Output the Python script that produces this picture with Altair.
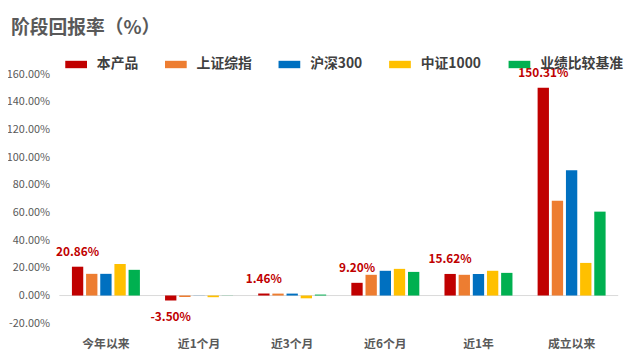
import altair as alt
import pandas as pd

categories = ["今年以来", "近1个月", "近3个月", "近6个月", "近1年", "成立以来"]
series = ["本产品", "上证综指", "沪深300", "中证1000", "业绩比较基准"]
colors = ["#C00000", "#ED7D31", "#0070C0", "#FFC000", "#00B050"]

v_product = [20.86, -3.50, 1.46, 9.20, 15.62, 150.31]
v_sh = [15.7, -1.0, 1.4, 15.0, 15.0, 68.6]
v_hs300 = [15.7, 0.1, 1.4, 17.9, 15.6, 90.7]
v_zz1000 = [22.9, -1.2, -2.0, 19.3, 17.9, 23.6]
v_bench = [18.6, 0.1, 0.7, 17.1, 16.4, 60.7]
y_ticks = [-20, 0, 20, 40, 60, 80, 100, 120, 140, 160]

rows = []
for s, vals in zip(series, [v_product, v_sh, v_hs300, v_zz1000, v_bench]):
    for c, v in zip(categories, vals):
        rows.append({"cat": c, "series": s, "value": v})
df = pd.DataFrame(rows)

FONT = "Noto Sans CJK SC"
PCT = "(datum.value < 0 ? '-' : '') + format(abs(datum.value), '.2f') + '%'"

x_axis = alt.Axis(title=None, domain=False, ticks=False, labelAngle=0,
                  labelFont=FONT, labelFontSize=12, labelFontWeight="bold",
                  labelColor="#595959", labelPadding=16, orient="bottom")
y_axis = alt.Axis(title=None, values=y_ticks, grid=False,
                  domain=False, ticks=False, labelPadding=10, labelOverlap=False,
                  labelExpr=PCT,
                  labelFont=FONT, labelFontSize=11, labelColor="#595959")
x_scale = alt.Scale(paddingInner=0.27, paddingOuter=0.135)
xoff_scale = alt.Scale(domain=series, paddingInner=0.2, paddingOuter=0)
y_scale = alt.Scale(domain=[-20, 160], nice=False, zero=False)


def X():
    return alt.X("cat:N", sort=categories, scale=x_scale, axis=x_axis)


def XO():
    return alt.XOffset("series:N", sort=series, scale=xoff_scale)


def Y(field):
    return alt.Y(field, scale=y_scale, axis=y_axis)


bars = alt.Chart(df).mark_bar().encode(
    x=X(),
    xOffset=XO(),
    y=Y("value:Q"),
    color=alt.Color("series:N", sort=series,
                    scale=alt.Scale(domain=series, range=colors),
                    legend=alt.Legend(title=None, orient="none", legendX=6, legendY=-21,
                                      direction="horizontal", columns=5,
                                      symbolType="M-1,-0.34h2v0.68h-2z", symbolSize=484,
                                      symbolStrokeWidth=0, symbolOffset=0,
                                      labelFont=FONT, labelFontSize=14, labelFontWeight="bold",
                                      labelColor="#404040", labelOffset=10, labelLimit=200,
                                      columnPadding=27, padding=0)),
)

zero = alt.Chart(pd.DataFrame({"value": [0]})).mark_rule(color="#D9D9D9", strokeWidth=1).encode(
    y=Y("value:Q")
)

prod = df[df["series"] == "本产品"]
pos_lbl = alt.Chart(prod).transform_filter("datum.value >= 0").transform_calculate(
    lbl=PCT
).mark_text(
    font=FONT, fontSize=12, fontWeight="bold", color="#C00000", baseline="middle", dy=-15
).encode(x=X(), xOffset=XO(), y=Y("value:Q"), text="lbl:N")
neg_lbl = alt.Chart(prod).transform_filter("datum.value < 0").transform_calculate(
    lbl=PCT
).mark_text(
    font=FONT, fontSize=12, fontWeight="bold", color="#C00000", baseline="middle", dy=17
).encode(x=X(), xOffset=XO(), y=Y("value:Q"), text="lbl:N")

chart = alt.layer(zero, bars, pos_lbl, neg_lbl).properties(
    width=566, height=252,
    autosize=alt.AutoSizeParams(type="none"),
    padding={"left": 52, "top": 65, "right": 14, "bottom": 30},
    title=alt.TitleParams("阶段回报率（%）", anchor="start", frame="group", dx=-49,
                          offset=16, font=FONT, fontSize=19, fontWeight="bold",
                          color="#595959"),
).configure_view(stroke=None).configure_axisY(labelOverlap=False)

chart.save("out.html", embed_options={"renderer": "svg", "actions": False})
